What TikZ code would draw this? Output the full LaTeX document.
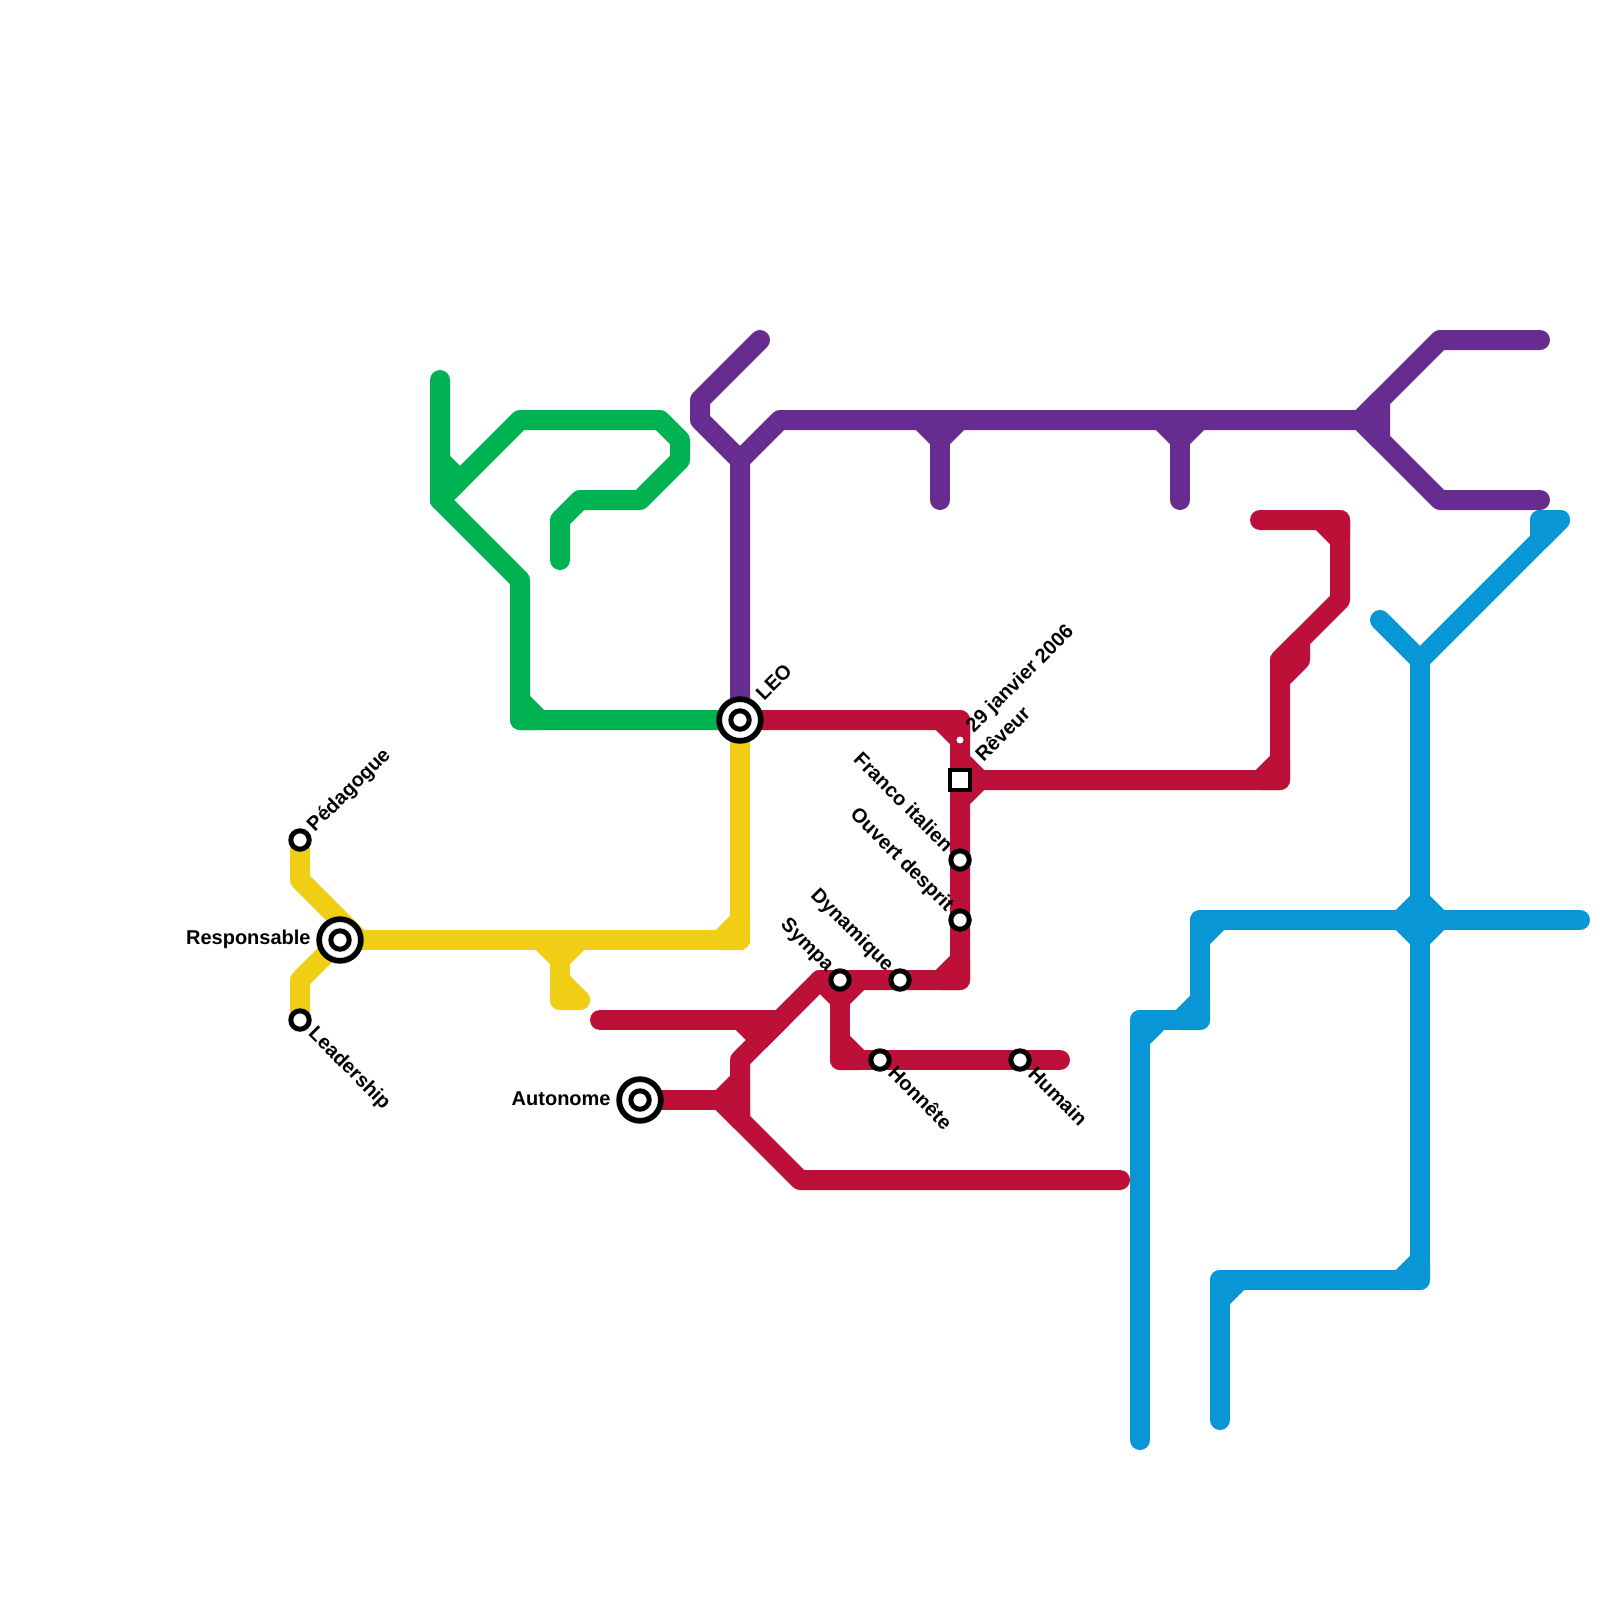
\documentclass[tikz,border=0pt]{standalone}
\usepackage{fontspec}
\setmainfont{Liberation Sans}
\usetikzlibrary{backgrounds}
\definecolor{LineGreen}{HTML}{00B251}
\definecolor{LinePurple}{HTML}{662C90}
\definecolor{LineRed}{HTML}{BD1038}
\definecolor{LineYellow}{HTML}{F0CE15}
\definecolor{LineBlue}{HTML}{0896D7}

\begin{document}
\begin{tikzpicture}[
	x=0.5pt, y=-0.5pt, % One unit is one pixel of the 1600 wide map
	% Style for the coloured lines
	track/.style={
		line width=10pt,
		line cap=round,
		line join=round
	},
	% Styles for the small filled corners where lines meet
	green track/.style={track, draw=LineGreen},
	purple track/.style={track, draw=LinePurple},
	red track/.style={track, draw=LineRed},
	yellow track/.style={track, draw=LineYellow},
	blue track/.style={track, draw=LineBlue},
	% Style for the plain stations
	station/.style={
		circle,
		draw=black,
		fill=white,
		line width=2.5pt,
		minimum size=9.2pt,
		inner sep=0pt
	},
	% Style for the big ring of an interchange
	hub/.style={
		circle,
		draw=black,
		fill=white,
		line width=2.85pt,
		minimum size=20.85pt,
		inner sep=0pt
	},
	square stop/.style={
		rectangle,
		draw=black,
		fill=white,
		line width=1.85pt,
		minimum size=9.8pt,
		inner sep=0pt
	},
	dot stop/.style={
		circle,
		fill=white,
		minimum size=3.5pt,
		inner sep=0pt
	},
	% Style for the station names
	stop label/.style={
		font=\fontsize{10}{12}\selectfont\bfseries,
		text=black,
		inner sep=0pt
	},
	up label/.style={stop label, rotate=45, anchor=west},
	down label/.style={stop label, rotate=-45, anchor=west},
	back label/.style={stop label, rotate=-45, anchor=east}
	]
	
	\useasboundingbox (0,0) rectangle (1600,1600);
	
	% 1. Define Stations
	\node[station] (Pedagogue) at (300,840) {};
	\node[station] (Leadership) at (300,1020) {};
	\node[hub] (ResponsableRing) at (340,940) {};
	\node[station] (Responsable) at (340,940) {};
	\node[hub] (LeoRing) at (740,720) {};
	\node[station] (Leo) at (740,720) {};
	\node[hub] (AutonomeRing) at (640,1100) {};
	\node[station] (Autonome) at (640,1100) {};
	\node[dot stop] (Date) at (960,740) {};
	\node[square stop] (Reveur) at (960,780) {};
	\node[station] (Franco) at (960,860) {};
	\node[station] (Ouvert) at (960,920) {};
	\node[station] (Dynamique) at (900,980) {};
	\node[station] (Sympa) at (840,980) {};
	\node[station] (Honnete) at (880,1060) {};
	\node[station] (Humain) at (1020,1060) {};
	
	% 2. Station Names
	\node[up label] (PedagogueName) at (311,829) {Pédagogue};
	\node[down label] (LeadershipName) at (311,1031) {Leadership};
	\node[stop label, anchor=east] (ResponsableName) at (311,939) {Responsable};
	\node[stop label, anchor=east] (AutonomeName) at (611,1099) {Autonome};
	\node[up label] (LeoName) at (759,697) {LEO};
	\node[up label] (DateName) at (970,730) {29 janvier 2006};
	\node[up label] (ReveurName) at (978,758) {Rêveur};
	\node[back label] (FrancoName) at (950,848) {Franco italien};
	\node[back label] (OuvertName) at (950,909) {Ouvert desprit};
	\node[back label] (DynamiqueName) at (890,969) {Dynamique};
	\node[back label] (SympaName) at (830,969) {Sympa};
	\node[down label] (HonneteName) at (892,1069) {Honnête};
	\node[down label] (HumainName) at (1032,1070) {Humain};
	
	% 3. Free ends and forks of the lines
	\coordinate (GreenTop) at (440,380);
	\coordinate (GreenFork) at (440,500);
	\coordinate (GreenEnd) at (560,560);
	\coordinate (PurpleEnd) at (760,340);
	\coordinate (PurpleFork) at (740,460);
	\coordinate (PurpleStubA) at (940,500);
	\coordinate (PurpleStubB) at (1180,500);
	\coordinate (PurpleSplit) at (1360,420);
	\coordinate (PurpleTop) at (1540,340);
	\coordinate (PurpleLow) at (1540,500);
	\coordinate (YellowEnd) at (580,1000);
	\coordinate (RedCorner) at (960,980);
	\coordinate (RedFork) at (820,980);
	\coordinate (RedWest) at (600,1020);
	\coordinate (RedSouth) at (1120,1180);
	\coordinate (RedEast) at (1060,1060);
	\coordinate (RedNorth) at (1260,520);
	\coordinate (BlueWest) at (1380,620);
	\coordinate (BlueFork) at (1420,660);
	\coordinate (BlueTip) at (1560,520);
	\coordinate (BlueEast) at (1580,920);
	\coordinate (BlueLeft) at (1140,1440);
	\coordinate (BlueRight) at (1220,1420);
	
	\begin{pgfonlayer}{background}
	% Green line
	\draw[green track] (GreenTop) -- (GreenFork) -- (520,580) -- (520,720) -- (Leo.center);
	\draw[green track] (GreenFork) -- (520,420) -- (660,420) -- (680,440) -- (680,460) -- (640,500) -- (580,500) -- (560,520) -- (GreenEnd);
	\filldraw[green track, fill=LineGreen] (440,460) -- (460,480) -- (GreenFork) -- cycle;
	\filldraw[green track, fill=LineGreen] (520,700) -- (540,720) -- (520,720) -- cycle;
	
	% Purple line
	\draw[purple track] (Leo.center) -- (PurpleFork) -- (700,420) -- (700,400) -- (PurpleEnd);
	\draw[purple track] (PurpleFork) -- (780,420) -- (PurpleSplit);
	\draw[purple track] (940,420) -- (PurpleStubA);
	\draw[purple track] (1180,420) -- (PurpleStubB);
	\draw[purple track] (PurpleSplit) -- (1440,340) -- (PurpleTop);
	\draw[purple track] (PurpleSplit) -- (1440,500) -- (PurpleLow);
	\filldraw[purple track, fill=LinePurple] (920,420) -- (960,420) -- (940,440) -- cycle;
	\filldraw[purple track, fill=LinePurple] (1160,420) -- (1200,420) -- (1180,440) -- cycle;
	\filldraw[purple track, fill=LinePurple] (PurpleSplit) -- (1380,400) -- (1380,440) -- cycle;
	
	% Yellow line
	\draw[yellow track] (Pedagogue.center) -- (300,880) -- (360,940);
	\draw[yellow track] (Leadership.center) -- (300,980) -- (Responsable.center);
	\draw[yellow track] (Responsable.center) -- (740,940) -- (Leo.center);
	\draw[yellow track] (560,940) -- (560,1000) -- (YellowEnd);
	\filldraw[yellow track, fill=LineYellow] (720,940) -- (740,920) -- (740,940) -- cycle;
	\filldraw[yellow track, fill=LineYellow] (540,940) -- (580,940) -- (560,960) -- cycle;
	\filldraw[yellow track, fill=LineYellow] (560,980) -- (YellowEnd) -- (560,1000) -- cycle;
	
	% Red line
	\draw[red track] (Leo.center) -- (960,720) -- (RedCorner) -- (RedFork) -- (740,1060) -- (740,1120);
	\draw[red track] (RedWest) -- (780,1020);
	\draw[red track] (Autonome.center) -- (740,1100);
	\draw[red track] (720,1100) -- (800,1180) -- (RedSouth);
	\draw[red track] (Sympa.center) -- (840,1060) -- (RedEast);
	\draw[red track] (Reveur.center) -- (1280,780) -- (1280,660) -- (1340,600) -- (1340,520) -- (RedNorth);
	\filldraw[red track, fill=LineRed] (940,720) -- (960,720) -- (960,740) -- cycle;
	\filldraw[red track, fill=LineRed] (960,760) -- (980,780) -- (960,800) -- cycle;
	\filldraw[red track, fill=LineRed] (940,980) -- (960,960) -- (RedCorner) -- cycle;
	\filldraw[red track, fill=LineRed] (RedFork) -- (860,980) -- (840,1000) -- cycle;
	\filldraw[red track, fill=LineRed] (840,1040) -- (860,1060) -- (840,1060) -- cycle;
	\filldraw[red track, fill=LineRed] (740,1020) -- (780,1020) -- (760,1040) -- cycle;
	\filldraw[red track, fill=LineRed] (720,1100) -- (740,1080) -- (740,1120) -- cycle;
	\filldraw[red track, fill=LineRed] (1260,780) -- (1280,760) -- (1280,780) -- cycle;
	\filldraw[red track, fill=LineRed] (1280,660) -- (1300,640) -- (1300,660) -- (1280,680) -- cycle;
	\filldraw[red track, fill=LineRed] (1320,520) -- (1340,520) -- (1340,540) -- cycle;
	
	% Blue line
	\draw[blue track] (BlueWest) -- (BlueFork) -- (BlueTip) -- (1540,520);
	\draw[blue track] (BlueFork) -- (1420,1280) -- (1220,1280) -- (BlueRight);
	\draw[blue track] (BlueEast) -- (1200,920) -- (1200,1020) -- (1140,1020) -- (BlueLeft);
	\filldraw[blue track, fill=LineBlue] (1540,520) -- (BlueTip) -- (1540,540) -- cycle;
	\filldraw[blue track, fill=LineBlue] (1400,920) -- (1420,900) -- (1440,920) -- (1420,940) -- cycle;
	\filldraw[blue track, fill=LineBlue] (1200,920) -- (1220,920) -- (1200,940) -- cycle;
	\filldraw[blue track, fill=LineBlue] (1180,1020) -- (1200,1000) -- (1200,1020) -- cycle;
	\filldraw[blue track, fill=LineBlue] (1140,1020) -- (1160,1020) -- (1140,1040) -- cycle;
	\filldraw[blue track, fill=LineBlue] (1400,1280) -- (1420,1260) -- (1420,1280) -- cycle;
	\filldraw[blue track, fill=LineBlue] (1220,1280) -- (1240,1280) -- (1220,1300) -- cycle;
	\end{pgfonlayer}
	
\end{tikzpicture}
\end{document}
